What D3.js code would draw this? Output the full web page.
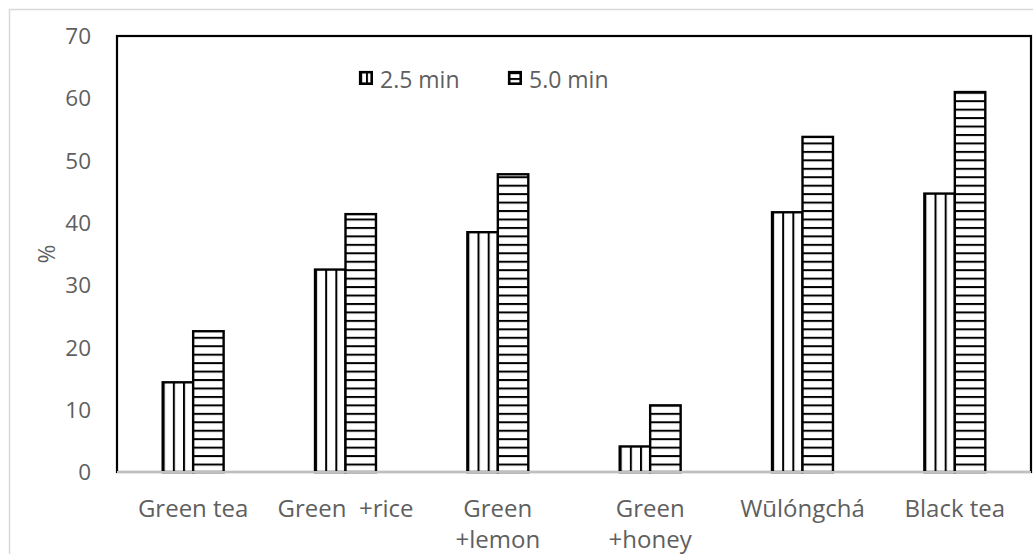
<!DOCTYPE html>
<html><head><meta charset="utf-8">
<script src="https://cdn.jsdelivr.net/npm/d3@7"></script>
<style>
body{margin:0;background:#fff;}
text{font-family:"Open Sans","Noto Sans",sans-serif;fill:#5f5f5f;white-space:pre;}
</style></head>
<body><svg id="c" width="1033" height="554"></svg>
<script>
const categories = ["Green tea", "Green  +rice", "Green\n+lemon", "Green\n+honey", "Wūlóngchá", "Black tea"];
const series = ["2.5 min", "5.0 min"];
const values25 = [14.4, 32.5, 38.5, 4.1, 41.7, 44.7];
const values50 = [22.6, 41.4, 47.8, 10.7, 53.8, 61.0];
const yTicks = [0, 10, 20, 30, 40, 50, 60, 70];

const svg = d3.select("#c");
const L = 117, R = 1031, T = 36, B = 472;

// outer chart border
svg.append("rect").attr("x", 9.5).attr("y", 9.5).attr("width", 1040).attr("height", 560)
  .attr("fill", "#fff").attr("stroke", "#d9d9d9").attr("stroke-width", 1.5);

const y = d3.scaleLinear().domain([0, 70]).range([B, T]);
const x0 = d3.scaleBand().domain(categories).range([L, R]).paddingInner(0.6).paddingOuter(0.3);
const x1 = d3.scaleBand().domain(series).range([0, x0.bandwidth()]);

const defs = svg.append("defs");
const pv = defs.append("pattern").attr("id", "pv").attr("patternUnits", "objectBoundingBox")
  .attr("x", 0).attr("y", 0).attr("width", 1/3).attr("height", 1);
pv.append("rect").attr("width", 40).attr("height", 2000).attr("fill", "#fff");
pv.append("rect").attr("x", 0).attr("width", 2).attr("height", 2000).attr("fill", "#000");
const hp = 8.45;
const ph = defs.append("pattern").attr("id", "ph").attr("patternUnits", "userSpaceOnUse")
  .attr("x", 0).attr("y", B % hp).attr("width", 40).attr("height", hp);
ph.append("rect").attr("width", 40).attr("height", hp).attr("fill", "#fff");
ph.append("rect").attr("y", 0).attr("width", 40).attr("height", 2).attr("fill", "#000");
const lv = defs.append("pattern").attr("id", "lv").attr("patternUnits", "objectBoundingBox")
  .attr("width", 1/2).attr("height", 1);
lv.append("rect").attr("width", 40).attr("height", 40).attr("fill", "#fff");
lv.append("rect").attr("width", 2).attr("height", 40).attr("fill", "#000");
const lh = defs.append("pattern").attr("id", "lh").attr("patternUnits", "objectBoundingBox")
  .attr("width", 1).attr("height", 1/2);
lh.append("rect").attr("width", 40).attr("height", 40).attr("fill", "#fff");
lh.append("rect").attr("width", 40).attr("height", 2).attr("fill", "#000");

// plot area border
svg.append("rect").attr("x", L).attr("y", T).attr("width", R - L).attr("height", B - T)
  .attr("fill", "none").attr("stroke", "#000").attr("stroke-width", 2.2);

// y axis labels
svg.append("g").selectAll("text").data(yTicks).join("text")
  .attr("x", 91).attr("y", d => y(d)).attr("dy", "0.36em").attr("text-anchor", "end")
  .attr("font-size", 22.5).text(d => d);

// y title
svg.append("text").attr("transform", `translate(47,${(T + B) / 2}) rotate(-90)`)
  .attr("text-anchor", "middle").attr("dy", "0.36em").attr("font-size", 23).text("%");

// bars
const data = categories.map((c, i) => ({c, v: [values25[i], values50[i]]}));
const g = svg.append("g");
data.forEach(d => {
  series.forEach((s, j) => {
    const v = d.v[j];
    g.append("rect")
      .attr("x", x0(d.c) + x1(s)).attr("y", y(v))
      .attr("width", x1.bandwidth()).attr("height", y(0) - y(v))
      .attr("fill", j === 0 ? "url(#pv)" : "url(#ph)")
      .attr("stroke", "#000").attr("stroke-width", 2.4);
  });
});

// x axis line
svg.append("line").attr("x1", L).attr("x2", R).attr("y1", B).attr("y2", B)
  .attr("stroke", "#bfbfbf").attr("stroke-width", 2);

// category labels
svg.append("g").selectAll("text").data(categories).join("text")
  .attr("x", d => x0(d) + x0.bandwidth() / 2).attr("y", 508)
  .attr("text-anchor", "middle").attr("font-size", 24)
  .each(function(d) {
    const lines = d.split("\n");
    d3.select(this).selectAll("tspan").data(lines).join("tspan")
      .attr("x", x0(d) + x0.bandwidth() / 2).attr("dy", (l, i) => i === 0 ? "0.36em" : 31.5)
      .text(l => l);
  });

// legend
const legX = [359, 508];
series.forEach((s, i) => {
  svg.append("rect").attr("x", legX[i] + 1.2).attr("y", 72.2).attr("width", 11.5).attr("height", 11.5)
    .attr("fill", i === 0 ? "url(#lv)" : "url(#lh)").attr("stroke", "#000").attr("stroke-width", 2.6);
  svg.append("text").attr("x", legX[i] + 21).attr("y", 79.5).attr("dy", "0.36em")
    .attr("font-size", 23).text(s);
});
</script></body></html>
